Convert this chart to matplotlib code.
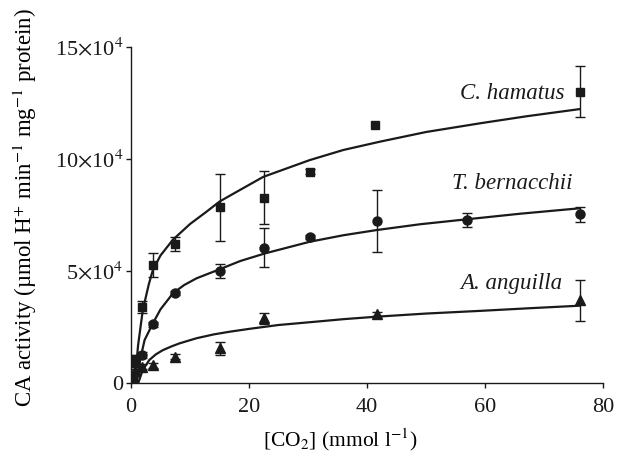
import matplotlib
matplotlib.use("Agg")
import matplotlib.pyplot as plt

plt.rcParams['font.family'] = ['Liberation Serif', 'DejaVu Serif']
plt.rcParams['mathtext.fontset'] = 'stix'

# ---- data ----
conc_ham = [0.4, 0.75, 1.9, 3.7, 7.4, 15.0, 22.5, 30.3, 41.3, 76.0]
act_ham = [9000, 11000, 34000, 52700, 62000, 78500, 82800, 94300, 115100, 130000]
err_ham = [1500, 1500, 2500, 5300, 3000, 15000, 12000, 1000, float('nan'), 11200]

conc_ber = [0.4, 0.75, 1.9, 3.7, 7.4, 15.0, 22.5, 30.3, 41.6, 56.9, 76.0]
act_ber = [3500, 9500, 12600, 26300, 40300, 50100, 60400, 65300, 72300, 72800, 75300]
err_ber = [1000, 1500, 1500, 1200, 1000, 3300, 8700, 800, 13900, 3300, 3200]

conc_ang = [0.4, 0.75, 1.9, 3.7, 7.4, 15.0, 22.5, 41.6, 76.0]
act_ang = [2500, 5500, 7400, 8000, 11900, 15600, 29000, 31000, 37000]
err_ang = [800, 1000, 1000, 1000, 1200, 2900, 2500, 800, 9100]

fit_x_ham = [0.6, 1.2, 2.0, 3.0, 3.7, 5.0, 7.1, 10.0, 12.8, 15.0, 17.0, 22.4, 30.3, 36.0, 42.2, 50.0, 59.2, 67.0, 76.0]
fit_y_ham = [0, 17000, 32700, 44000, 50500, 57000, 64000, 71000, 76500, 81000, 84000, 92000, 99500, 104000, 107700, 112000, 115900, 119000, 122200]

fit_x_ber = [0.9, 1.5, 2.3, 3.7, 5.0, 7.1, 9.0, 11.1, 14.7, 18.5, 22.7, 30.3, 36.0, 41.6, 49.0, 56.9, 66.0, 76.0]
fit_y_ber = [0, 10000, 19300, 26700, 33000, 40100, 43800, 46800, 50500, 54500, 57900, 63100, 66000, 68300, 70900, 73100, 75600, 78000]

fit_x_ang = [1.2, 2.0, 3.1, 4.2, 5.4, 6.8, 8.2, 11.1, 14.0, 16.7, 20.1, 25.0, 31.4, 36.0, 41.6, 50.0, 59.2, 67.0, 76.0]
fit_y_ang = [0, 6000, 10400, 12900, 14800, 16400, 17800, 20100, 21800, 23000, 24300, 26000, 27500, 28600, 29700, 31100, 32300, 33400, 34600]

x_ticks = [0, 20, 40, 60, 80]
y_ticks = [0, 50000, 100000, 150000]
y_tick_labels = ['0', r'5$\times$10$^{4}$', r'10$\times$10$^{4}$', r'15$\times$10$^{4}$']

species = ['C. hamatus', 'T. bernacchii', 'A. anguilla']

# ---- figure ----
fig = plt.figure(figsize=(6.18, 4.58), dpi=100)
ax = fig.add_axes([0.212, 0.163, 0.764, 0.735])

col = '#1a1a1a'
ekw = dict(ecolor=col, elinewidth=1.0, capsize=3.6, capthick=1.0, linestyle='none', zorder=3)
ax.errorbar(conc_ham, act_ham, yerr=err_ham, marker='s', ms=6.3, mfc=col, mec=col, **ekw)
ax.errorbar(conc_ber, act_ber, yerr=err_ber, marker='o', ms=6.5, mfc=col, mec=col, **ekw)
ax.errorbar(conc_ang, act_ang, yerr=err_ang, marker='^', ms=7, mfc=col, mec=col, **ekw)

ax.plot(fit_x_ham, fit_y_ham, color=col, lw=1.6, zorder=2)
ax.plot(fit_x_ber, fit_y_ber, color=col, lw=1.6, zorder=2)
ax.plot(fit_x_ang, fit_y_ang, color=col, lw=1.6, zorder=2)

ax.set_xlim(0, 80)
ax.set_ylim(0, 150000)
ax.set_xticks(x_ticks)
ax.set_yticks(y_ticks)
ax.set_yticklabels(y_tick_labels)
ax.tick_params(direction='out', length=3.6, width=1, labelsize=16, colors=col)
ax.tick_params(axis='x', pad=7)
ax.tick_params(axis='y', pad=2)
for s in ['top', 'right']:
    ax.spines[s].set_visible(False)
for s in ['left', 'bottom']:
    ax.spines[s].set_linewidth(1.0)
    ax.spines[s].set_color(col)

ax.set_xlabel(r'[CO$_2$] (mmol l$^{-1}$)', fontsize=15.5, va='center')
ax.xaxis.set_label_coords(0.443, -0.168)
ax.set_ylabel(r'CA activity (µmol H$^{+}$ min$^{-1}$ mg$^{-1}$ protein)', fontsize=16.5, va='center')
ax.yaxis.set_label_coords(-0.2246, 0.522)

label_pos = [(0.919, 0.862), (0.936, 0.595), (0.913, 0.298)]
for name, (lx, ly) in zip(species, label_pos):
    ax.text(lx, ly, name, transform=ax.transAxes, ha='right', va='center',
            fontsize=16.5, style='italic', color=col)

fig.savefig('out.png', dpi=100)
